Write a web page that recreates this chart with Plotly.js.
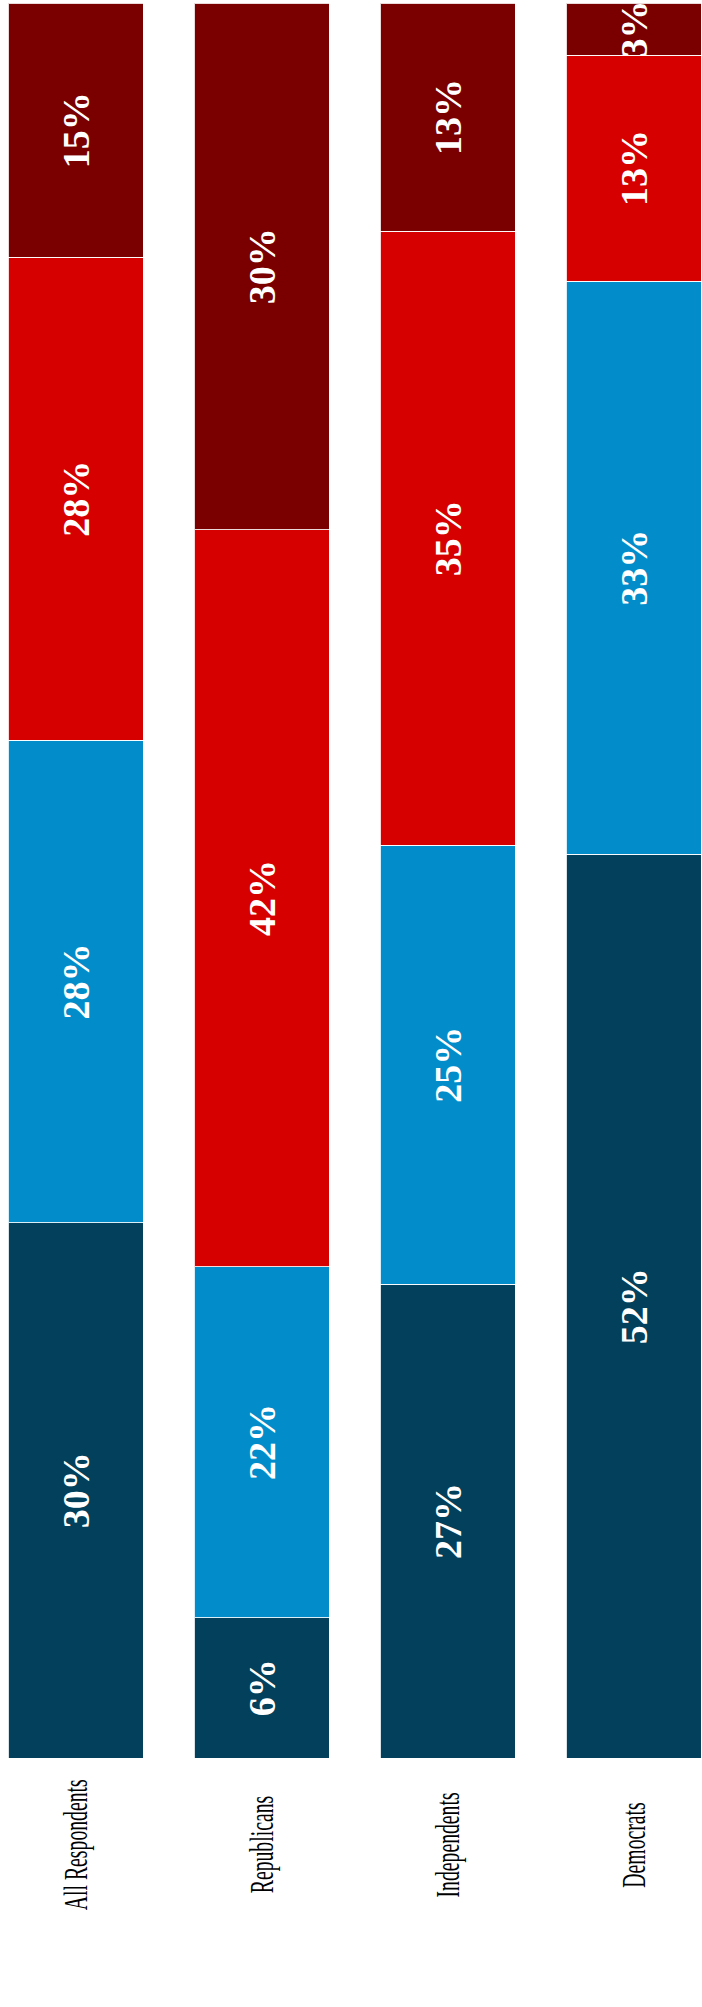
<!DOCTYPE html>
<html>
<head>
<meta charset="utf-8">
<script src="https://cdn.plot.ly/plotly-3.0.1.min.js"></script>
<style>html,body{margin:0;padding:0;background:#fff;}#chart{width:702px;height:2007px;}</style>
</head>
<body>
<div id="chart"></div>
<script>
// Data
var categories = ["All Respondents", "Republicans", "Independents", "Democrats"];
var seriesNames = ["Series 1", "Series 2", "Series 3", "Series 4"];
// segment heights as drawn in the picture
var series1 = [30.5, 8, 27, 52];
var series2 = [27.5, 20, 25, 33];
var series3 = [27.5, 42, 35, 13];
var series4 = [14.5, 30, 13, 3];
// labels as printed on the segments
var labels1 = ["30%", "6%", "27%", "52%"];
var labels2 = ["28%", "22%", "25%", "33%"];
var labels3 = ["28%", "42%", "35%", "13%"];
var labels4 = ["15%", "30%", "13%", "3%"];
var seriesColors = ["#02405C", "#028DCA", "#D60000", "#7A0000"];

var allSeries = [series1, series2, series3, series4];
var allLabels = [labels1, labels2, labels3, labels4];
var traces = allSeries.map(function (vals, i) {
  return {
    type: "bar",
    name: seriesNames[i],
    x: categories,
    y: vals,
    text: allLabels[i],
    textposition: "inside",
    insidetextanchor: "middle",
    textangle: -90,
    constraintext: "none",
    textfont: { family: "Liberation Serif, Times New Roman, serif", size: 38, color: "#ffffff", weight: "bold" },
    marker: { color: seriesColors[i], line: { color: "rgba(255,255,255,0.85)", width: 1 } },
    hoverinfo: "none"
  };
});

var annotations = categories.map(function (c) {
  return {
    text: c,
    x: c,
    xref: "x",
    y: -0.0496,
    yref: "paper",
    xanchor: "center",
    yanchor: "middle",
    textangle: -90,
    showarrow: false,
    font: { family: "Liberation Serif, Times New Roman, serif", size: 34, color: "#000000" }
  };
});

var layout = {
  width: 702,
  height: 2007,
  margin: { l: 0, r: 0, t: 3, b: 249 },
  barmode: "stack",
  barnorm: "percent",
  bargap: 0.274,
  showlegend: false,
  paper_bgcolor: "#ffffff",
  plot_bgcolor: "#ffffff",
  xaxis: { type: "category", range: [-0.406, 3.368], showticklabels: false, showgrid: false, zeroline: false, showline: false, ticks: "" },
  yaxis: { range: [0, 100], visible: false, showgrid: false, zeroline: false },
  annotations: annotations
};

Plotly.newPlot("chart", traces, layout, { displayModeBar: false, staticPlot: true }).then(function (gd) {
  // the category labels in the picture are narrower along their reading direction
  var texts = gd.querySelectorAll("text.annotation-text");
  texts.forEach(function (t) {
    var b = t.getBBox();
    var cx = b.x + b.width / 2, cy = b.y + b.height / 2;
    var prev = t.getAttribute("transform") || "";
    t.setAttribute("transform", prev + " translate(" + cx + "," + cy + ") scale(0.58,1) translate(" + (-cx) + "," + (-cy) + ")");
  });
});
</script>
</body>
</html>
